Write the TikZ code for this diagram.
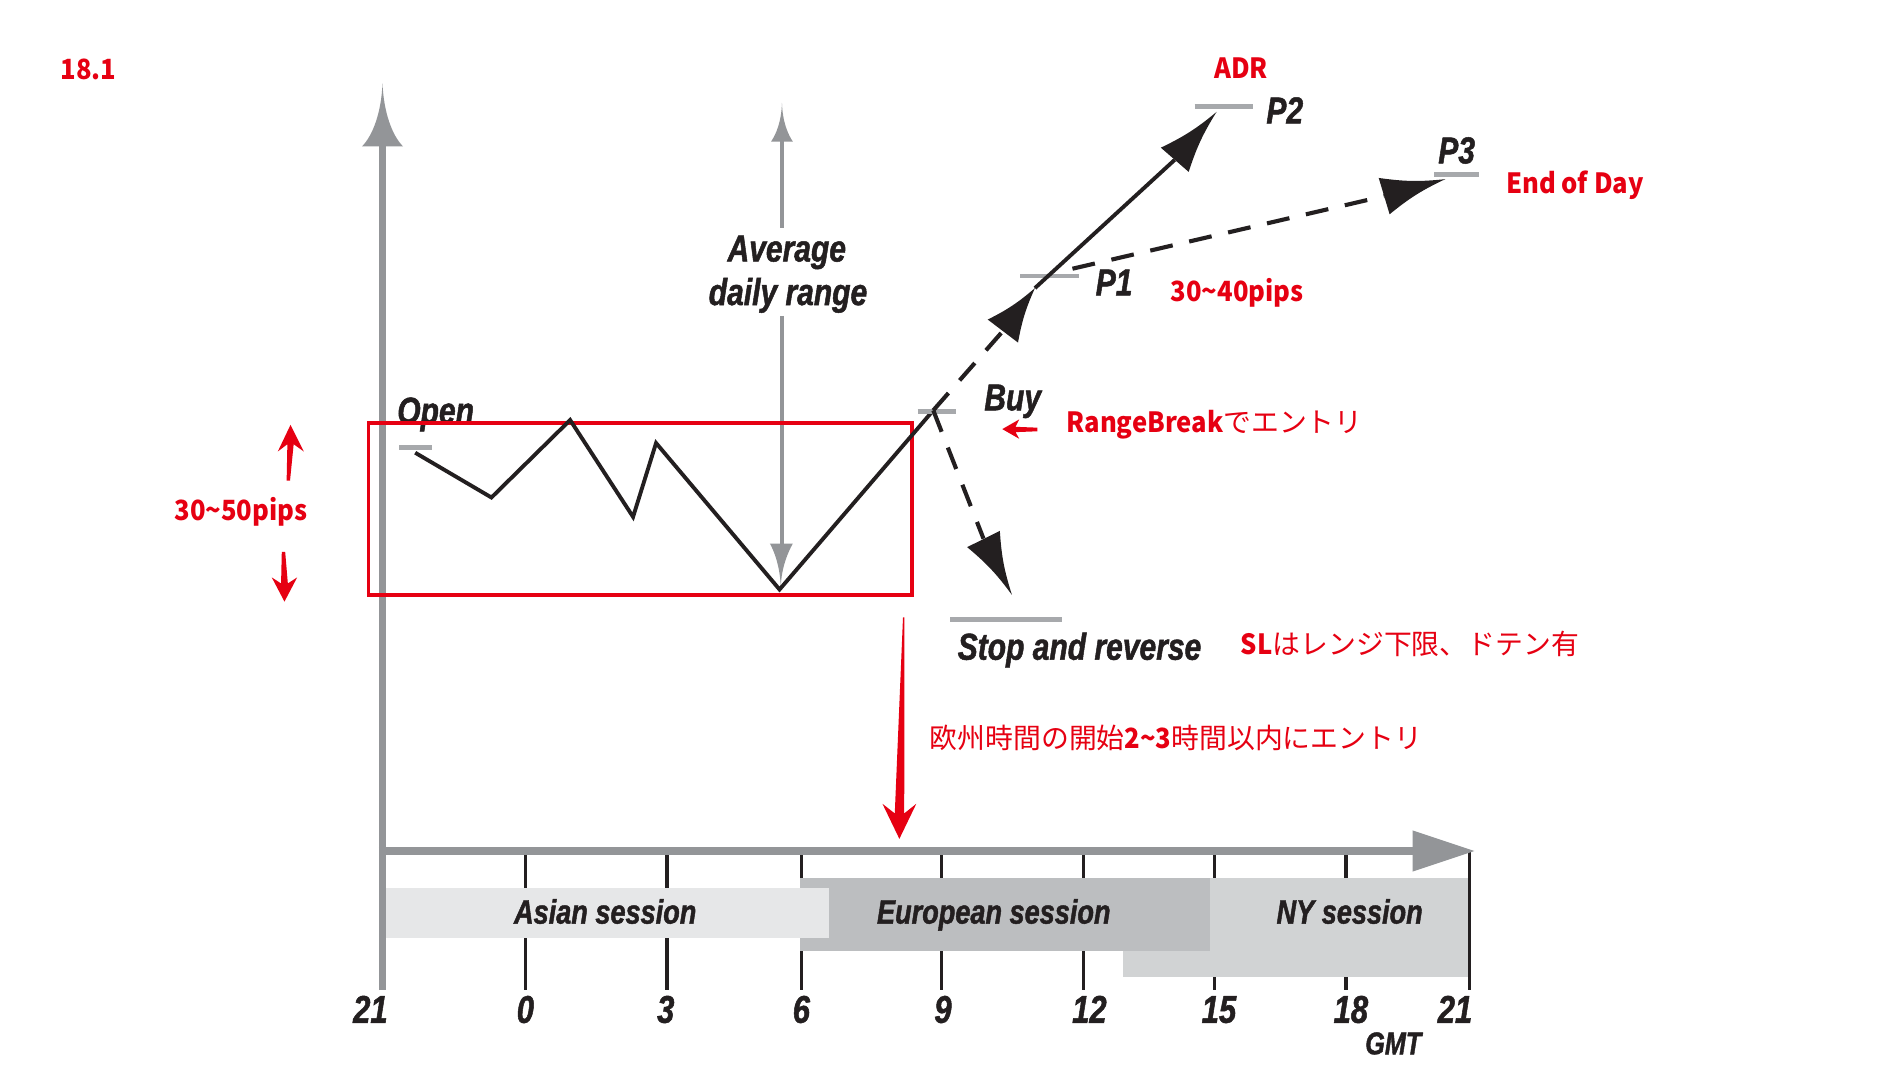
\documentclass[tikz,border=0pt]{standalone}
\usepackage{fontspec}
\newfontfamily\lblfont[FakeStretch=0.8, BoldItalicFeatures={FakeBold=1.3}]{Liberation Sans}
\newfontfamily\jpfont[BoldFeatures={FakeStretch=0.92}]{Noto Sans CJK JP}
\definecolor{ink}{HTML}{231F20}
\definecolor{axisgray}{HTML}{939598}
\definecolor{markgray}{HTML}{A7A9AC}
\definecolor{redc}{HTML}{E60012}
\definecolor{asian}{HTML}{E6E7E8}
\definecolor{euro}{HTML}{BCBEC0}
\definecolor{nyc}{HTML}{D1D3D4}
\tikzset{
  blk/.style={font=\lblfont\bfseries\itshape\fontsize{31}{36}\selectfont, text=ink, inner sep=0pt},
  sess/.style={font=\lblfont\bfseries\itshape\fontsize{28}{32}\selectfont, text=ink, inner sep=0pt, anchor=base},
  tickl/.style={font=\lblfont\bfseries\itshape\fontsize{32}{36}\selectfont, text=ink, inner sep=0pt, anchor=base},
  redt/.style={font=\jpfont\fontsize{23}{28}\selectfont, text=redc, inner sep=0pt, anchor=base west},
  gmark/.style={draw=markgray, line width=4pt},
  trend/.style={draw=ink, line width=3.2pt},
  dtrend/.style={draw=ink, line width=3.4pt, dash pattern=on 19pt off 14pt},
  tickline/.style={draw=ink, line width=2.6pt},
}
\begin{document}
\begin{tikzpicture}[x=1pt,y=-1pt]
\useasboundingbox (0,0) rectangle (1568,900);
\fill[white] (0,0) rectangle (1568,900);

% ---- ticks (behind the session bands)
\foreach \tx/\nm in {434/a,551/b,662/c,778/d,895/e,1003/f,1112/g,1214/h} {
  \coordinate (tt\nm) at (\tx,704);
  \coordinate (tb\nm) at (\tx,818);
  \draw[tickline] (tt\nm) -- (tb\nm);
}

% ---- session bands
\fill[nyc] (928,725) rectangle (1213,807);
\fill[euro] (661,725) rectangle (1000,786);
\fill[asian] (319,734) rectangle (685,775);
\node[sess] (asianl) at (500,763) {Asian session};
\node[sess] (eurol) at (821,763) {European session};
\node[sess] (nyl) at (1115,763) {NY session};

% ---- axes
\coordinate (O) at (316,818);
\coordinate (ybase) at (316,120);
\coordinate (ytip) at (316,69);
\coordinate (xO) at (313,703);
\coordinate (xend) at (1168,703);
\coordinate (xtip) at (1218,703);
\draw[axisgray, line width=6pt] (O) -- (ybase);
\fill[axisgray] (ytip) .. controls (315,93) and (308,112) .. (299,121) -- (333,121) .. controls (324,112) and (317,93) .. (ytip) -- cycle;
\draw[axisgray, line width=7pt] (xO) -- (xend);
\fill[axisgray] (xtip) -- (1167,686) -- (1167,720) -- cycle;

% ---- tick labels
\node[tickl] (n21a) at (306,845) {21};
\node[tickl] (n0) at (434,845) {0};
\node[tickl] (n3) at (550,845) {3};
\node[tickl] (n6) at (662,845) {6};
\node[tickl] (n9) at (779,845) {9};
\node[tickl] (n12) at (900,845) {12};
\node[tickl] (n15) at (1007,845) {15};
\node[tickl] (n18) at (1116,845) {18};
\node[tickl] (n21b) at (1202,845) {21};
\node[font=\lblfont\bfseries\itshape\fontsize{26}{30}\selectfont, text=ink, inner sep=0pt, anchor=base] (gmt) at (1151,871) {GMT};

% ---- open
\node[blk, anchor=base west] (openl) at (328,350) {Open};
\coordinate (om1) at (330,370);
\coordinate (om2) at (357,370);
\draw[gmark] (om1) -- (om2);

% ---- average daily range
\coordinate (avT) at (646,85);
\coordinate (avTb) at (646,116);
\coordinate (avG1) at (646,188);
\coordinate (avG2) at (646,261);
\coordinate (avBb) at (646,450);
\coordinate (avB) at (645,485);
\draw[axisgray, line width=3.5pt] (avTb) -- (avG1);
\draw[axisgray, line width=3.5pt] (avG2) -- (avBb);
\fill[axisgray] (avT) .. controls (645.5,101) and (641,111) .. (637,117) -- (655,117) .. controls (651,111) and (646.5,101) .. (avT) -- cycle;
\fill[axisgray] (avB) .. controls (644.5,469) and (640,456) .. (636,449) -- (655,449) .. controls (651,456) and (645.5,469) .. (avB) -- cycle;
\node[blk, anchor=base] (avg1) at (650,216) {Average};
\node[blk, anchor=base] (avg2) at (651,252) {daily range};

% ---- range box
\node[draw=redc, line width=3pt, minimum width=449pt, minimum height=142pt, inner sep=0pt, anchor=north west] (range) at (303,348) {};

% ---- price path
\coordinate (o) at (343,374);
\coordinate (z1) at (406,411);
\coordinate (z2) at (471,347);
\coordinate (z3) at (523,427);
\coordinate (z4) at (542,366);
\coordinate (z5) at (644,487);
\coordinate (buy) at (771,339);
\draw[trend, line join=miter] (o) -- (z1) -- (z2) -- (z3) -- (z4) -- (z5) -- (buy);

% buy marker
\coordinate (bm1) at (758,340);
\coordinate (bm2) at (790,340);
\draw[gmark] (bm1) -- (bm2);
\node[blk, anchor=base west] (buyl) at (813,339) {Buy};

% to P1
\coordinate (h1T) at (855,238);
\coordinate (h1a) at (841,283);
\coordinate (h1b) at (816,264);
\coordinate (h1m) at (828.5,273.5);
\draw[dtrend] (buy) -- (h1m);
\fill[ink] (h1T) to[bend right=7] (h1a) -- (h1b) to[bend right=7] (h1T) -- cycle;
\coordinate (p1m1) at (843,228);
\coordinate (p1m2) at (891,228);
\draw[gmark] (p1m1) -- (p1m2);
\node[blk, anchor=base west] (p1l) at (905,244) {P1};

% to P2
\coordinate (h2T) at (1005,92.5);
\coordinate (h2a) at (982,142);
\coordinate (h2b) at (959,122);
\coordinate (h2m) at (970.5,132);
\draw[trend] (h1T) -- (h2m);
\fill[ink] (h2T) to[bend right=7] (h2a) -- (h2b) to[bend right=7] (h2T) -- cycle;
\coordinate (p2m1) at (987,88);
\coordinate (p2m2) at (1035,88);
\draw[gmark] (p2m1) -- (p2m2);
\node[blk, anchor=base west] (p2l) at (1046,102) {P2};

% to P3
\coordinate (p1d) at (886,222);
\coordinate (h3T) at (1194,148);
\coordinate (h3a) at (1148,177);
\coordinate (h3b) at (1139,147);
\coordinate (h3m) at (1143.5,162);
\draw[dtrend] (p1d) -- (h3m);
\fill[ink] (h3T) to[bend right=7] (h3a) -- (h3b) to[bend right=7] (h3T) -- cycle;
\coordinate (p3m1) at (1185,144);
\coordinate (p3m2) at (1222,144);
\draw[gmark] (p3m1) -- (p3m2);
\node[blk, anchor=base west] (p3l) at (1188,135) {P3};

% to stop
\coordinate (hsT) at (836,491.5);
\coordinate (hsa) at (799,452);
\coordinate (hsb) at (826,438.6);
\coordinate (hsm) at (812.5,445);
\draw[dtrend] (buy) -- (hsm);
\fill[ink] (hsT) to[bend right=7] (hsa) -- (hsb) to[bend right=7] (hsT) -- cycle;
\coordinate (sm1) at (785,512);
\coordinate (sm2) at (877,512);
\draw[gmark] (sm1) -- (sm2);
\node[blk, anchor=base west] (stopl) at (791,545) {Stop and reverse};

% ---- red annotations
\node[redt] (fig) at (50,66) {\bfseries 18.1};
\node[redt] (adr) at (1003,65) {\bfseries ADR};
\node[redt] (eod) at (1244,160) {\bfseries End of Day};
\node[redt] (p40) at (967,249) {\bfseries 30\textasciitilde40pips};
\node[redt] (rb) at (881,357) {{\bfseries RangeBreak}でエントリ};
\node[redt] (sl) at (1025,541) {{\bfseries SL}はレンジ下限、ドテン有};
\node[redt] (eu) at (768,618) {欧州時間の開始{\bfseries 2\textasciitilde3}時間以内にエントリ};
\node[redt] (p50) at (144,430) {\bfseries 30\textasciitilde50pips};

% red arrows
\coordinate (raTop) at (746,510);
\coordinate (raTip) at (743,693);
\fill[redc] (raTop) -- (747.2,510) -- (747,672) -- (757,664) -- (raTip) -- (729,664) -- (739.2,672) -- cycle;
\coordinate (saTip) at (828,354.5);
\coordinate (saEnd) at (857,355);
\fill[redc] (saTip) -- (842,346.5) -- (839,352.6) -- (857,353.3) -- (857,356.3) -- (839,357) -- (842,362.5) -- cycle;
\coordinate (uaTip) at (240,351);
\coordinate (uaEnd) at (238,397);
\fill[redc] (uaTip) -- (251,373) -- (242.6,367) -- (239.6,397) -- (236.8,397) -- (237.4,367) -- (229.5,373) -- cycle;
\coordinate (daTop) at (234,456);
\coordinate (daTip) at (235,497);
\fill[redc] (232.8,456) -- (235.6,456) -- (237.8,482) -- (245.5,477) -- (daTip) -- (224.5,477) -- (232.2,482) -- cycle;
\end{tikzpicture}
\end{document}
